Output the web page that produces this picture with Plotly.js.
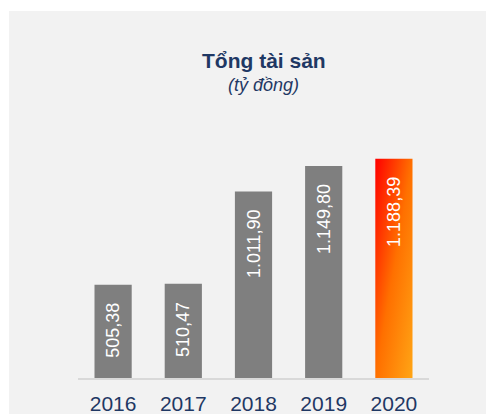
<!DOCTYPE html>
<html>
<head>
<meta charset="utf-8">
<script src="https://cdn.plot.ly/plotly-3.0.1.min.js"></script>
<style>
  html, body { margin: 0; padding: 0; background: #ffffff; width: 486px; height: 414px; overflow: hidden; }
  #chart { position: absolute; left: 9px; top: 11px; width: 477px; height: 403px; }
</style>
</head>
<body>
<div id="chart"></div>
<script>
// Data
const years = ['2016', '2017', '2018', '2019', '2020'];
const totalAssets = [505.38, 510.47, 1011.90, 1149.80, 1188.39];
const valueLabels = ['505,38', '510,47', '1.011,90', '1.149,80', '1.188,39'];
const chartTitle = 'Tổng tài sản';
const chartSubtitle = '(tỷ đồng)';

const navy = '#1f3864';
const pad = '\u00A0\u00A0\u00A0';

const trace = {
  type: 'bar',
  x: years,
  y: totalAssets,
  text: valueLabels.map(t => t + pad),
  textposition: 'inside',
  insidetextanchor: 'end',
  textangle: -90,
  textfont: { family: 'Liberation Sans, Arial, sans-serif', size: 18, color: '#ffffff' },
  constraintext: 'none',
  marker: { color: ['#7f7f7f', '#7f7f7f', '#7f7f7f', '#7f7f7f', '#ff6a00'], line: { width: 0 } },
  hoverinfo: 'none',
  cliponaxis: false
};

const layout = {
  width: 477,
  height: 403,
  margin: { l: 69, r: 57, t: 128, b: 36 },
  paper_bgcolor: '#f2f2f2',
  plot_bgcolor: '#f2f2f2',
  bargap: 0.47,
  showlegend: false,
  font: { family: 'Liberation Sans, Arial, sans-serif', color: navy },
  xaxis: {
    type: 'category',
    showgrid: false,
    zeroline: false,
    showline: true,
    linecolor: '#d9d9d9',
    linewidth: 2,
    ticks: '',
    ticklabelstandoff: 6,
    tickfont: { size: 21, color: navy },
    fixedrange: true
  },
  yaxis: {
    range: [0, 1296],
    visible: false,
    showgrid: false,
    zeroline: false,
    fixedrange: true
  },
  annotations: [
    {
      text: '<b>' + chartTitle + '</b>', xref: 'paper', yref: 'paper',
      x: 0.5285, y: 1.33, xanchor: 'center', yanchor: 'middle', showarrow: false,
      font: { size: 21, color: navy, family: 'Liberation Sans, Arial, sans-serif' }
    },
    {
      text: '<i>' + chartSubtitle + '</i>', xref: 'paper', yref: 'paper',
      x: 0.5285, y: 1.225, xanchor: 'center', yanchor: 'middle', showarrow: false,
      font: { size: 18, color: navy, family: 'Liberation Sans, Arial, sans-serif' }
    }
  ]
};

Plotly.newPlot('chart', [trace], layout, { staticPlot: true, displayModeBar: false }).then(gd => {
  const svg = gd.querySelector('svg.main-svg');
  const ns = 'http://www.w3.org/2000/svg';
  let defs = svg.querySelector('defs');
  if (!defs) { defs = document.createElementNS(ns, 'defs'); svg.insertBefore(defs, svg.firstChild); }
  const grad = document.createElementNS(ns, 'linearGradient');
  grad.setAttribute('id', 'barGrad2020');
  grad.setAttribute('x1', '0'); grad.setAttribute('y1', '0');
  grad.setAttribute('x2', '1'); grad.setAttribute('y2', '1');
  [['0', '#ff0000'], ['0.5', '#ff7000'], ['1', '#ffa515']].forEach(([o, c]) => {
    const s = document.createElementNS(ns, 'stop');
    s.setAttribute('offset', o); s.setAttribute('stop-color', c);
    grad.appendChild(s);
  });
  defs.appendChild(grad);
  const paths = gd.querySelectorAll('.barlayer .point path');
  const last = paths[paths.length - 1];
  if (last) last.style.fill = 'url(#barGrad2020)';
});
</script>
</body>
</html>
